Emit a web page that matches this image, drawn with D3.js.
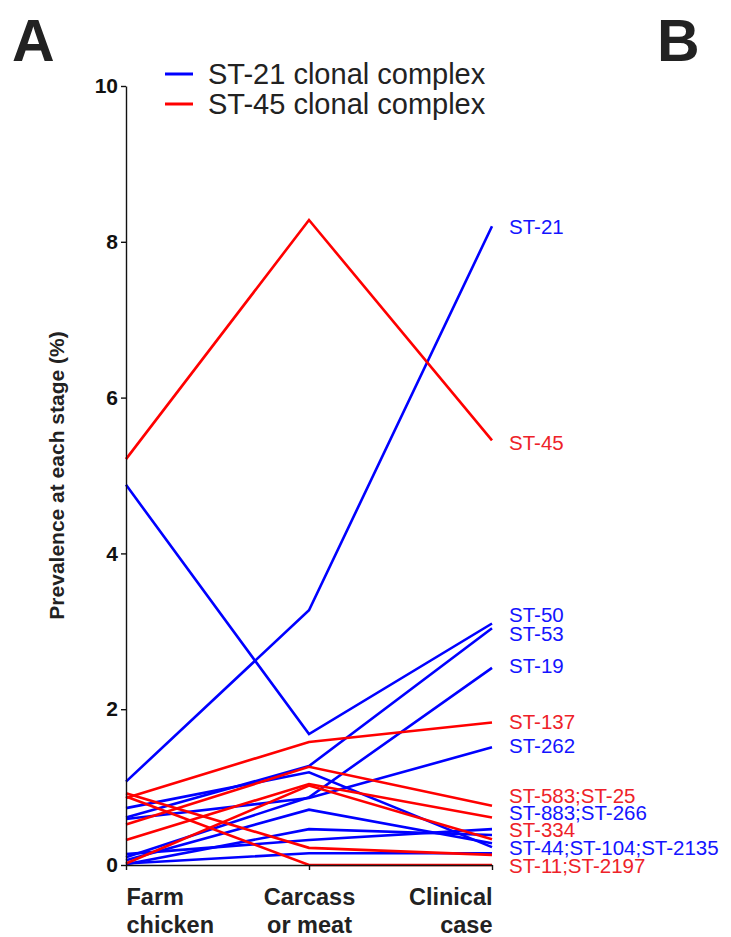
<!DOCTYPE html>
<html><head><meta charset="utf-8">
<script src="https://cdn.jsdelivr.net/npm/d3@7"></script>
<style>body{margin:0;background:#fff}</style></head>
<body>
<svg id="c" width="731" height="937"></svg>
<script>
// ---- data ----
const stages = ["Farm chicken", "Carcass or meat", "Clinical case"];
const stageLines = [["Farm", "chicken"], ["Carcass", "or meat"], ["Clinical", "case"]];
const yTicks = [0, 2, 4, 6, 8, 10];
const complexes = ["ST-21 clonal complex", "ST-45 clonal complex"];

const seriesNames = ["ST-21","ST-50","ST-53","ST-19","ST-262","ST-883","ST-266","ST-44","ST-104","ST-2135",
                     "ST-45","ST-137","ST-583","ST-25","ST-334","ST-11","ST-2197"];
const seriesComplex = [0,0,0,0,0,0,0,0,0,0, 1,1,1,1,1,1,1];
const farmValues     = [1.07, 4.88, 0.61, 0.10, 0.59, 0.73, 0.06, 0.14, 0.01, 0.02, 5.21, 0.86, 0.52, 0.32, 0.02, 0.92, 0.88];
const carcassValues  = [3.27, 1.68, 1.27, 0.87, 0.86, 1.19, 0.71, 0.32, 0.46, 0.15, 8.28, 1.58, 1.26, 1.04, 1.02, 0.22, 0.00];
const clinicalValues = [8.20, 3.10, 3.04, 2.53, 1.51, 0.23, 0.28, 0.46, 0.385, 0.15, 5.45, 1.83, 0.76, 0.61, 0.33, 0.13, 0.00];

const labelTexts   = ["ST-21","ST-45","ST-50","ST-53","ST-19","ST-137","ST-262","ST-583;ST-25","ST-883;ST-266","ST-334","ST-44;ST-104;ST-2135","ST-11;ST-2197"];
const labelComplex = [0,1,0,0,0,1,0,1,0,1,0,1];
const labelValues  = [8.19, 5.42, 3.21, 2.97, 2.55, 1.84, 1.53, 0.886, 0.668, 0.449, 0.218, -0.013];

// ---- styles ----
const lineColors = ["#0000ff", "#ff0000"];
const textColors = ["#1414ff", "#ee2229"];
const font = "Liberation Sans, Arial, Helvetica, sans-serif";

const svg = d3.select("#c");
const x = d3.scalePoint().domain(stages).range([126, 492]);
const y = d3.scaleLinear().domain([0, 10]).range([865, 86]);

// panel letters
svg.append("text").attr("x", 12).attr("y", 61).text("A")
  .attr("font-family", font).attr("font-weight", "bold").attr("font-size", 59).attr("fill", "#222");
svg.append("text").attr("x", 657).attr("y", 61).text("B")
  .attr("font-family", font).attr("font-weight", "bold").attr("font-size", 59).attr("fill", "#222");

// lines
const series = seriesNames.map((n, i) => ({
  name: n, c: seriesComplex[i],
  vals: [farmValues[i], carcassValues[i], clinicalValues[i]]
}));
const line = d3.line().x((d, j) => x(stages[j])).y(d => y(d));
svg.append("g").selectAll("path").data(series).join("path")
  .attr("d", d => line(d.vals))
  .attr("fill", "none")
  .attr("stroke", d => lineColors[d.c])
  .attr("stroke-width", 2.6)
  .attr("stroke-linejoin", "miter");

// axes
const yAxis = svg.append("g").attr("transform", "translate(126,0)")
  .call(d3.axisLeft(y).tickValues(yTicks).tickSize(5).tickSizeOuter(0).tickPadding(3));
yAxis.selectAll("text").attr("font-family", font).attr("font-weight", "bold").attr("font-size", 21).attr("fill", "#111");
yAxis.selectAll("line,path").attr("stroke", "#111").attr("stroke-width", 1.4);

const xAxis = svg.append("g").attr("transform", "translate(0,865)")
  .call(d3.axisBottom(x).tickSize(5).tickSizeOuter(0).tickFormat(""));
xAxis.selectAll("line,path").attr("stroke", "#111").attr("stroke-width", 1.4);
xAxis.selectAll(".tick").data(stageLines).each(function(d, i) {
  const anchor = ["start", "middle", "end"][i];
  const t = d3.select(this).append("text")
    .attr("font-family", font).attr("font-weight", "bold").attr("font-size", 23.5)
    .attr("fill", "#222").attr("text-anchor", anchor);
  d.forEach((s, k) => t.append("tspan").attr("x", 0).attr("y", 40 + k * 28).text(s));
});

// y title
svg.append("text")
  .attr("transform", `translate(64,${(86 + 865) / 2}) rotate(-90)`)
  .attr("text-anchor", "middle")
  .attr("font-family", font).attr("font-weight", "bold").attr("font-size", 21).attr("fill", "#222")
  .text("Prevalence at each stage (%)");

// legend
const lg = svg.append("g").selectAll("g").data(complexes).join("g")
  .attr("transform", (d, i) => `translate(165,${74 + i * 30})`);
lg.append("line").attr("x1", 0).attr("x2", 28).attr("y1", 0).attr("y2", 0)
  .attr("stroke", (d, i) => lineColors[i]).attr("stroke-width", 3);
lg.append("text").attr("x", 43).attr("y", 10).text(d => d)
  .attr("font-family", font).attr("font-size", 29).attr("fill", "#222");

// series labels
svg.append("g").selectAll("text").data(labelTexts).join("text")
  .attr("x", 509).attr("y", (d, i) => y(labelValues[i]) + 7)
  .attr("font-family", font).attr("font-size", 20.5)
  .attr("fill", (d, i) => textColors[labelComplex[i]])
  .text(d => d);
</script>
</body></html>
